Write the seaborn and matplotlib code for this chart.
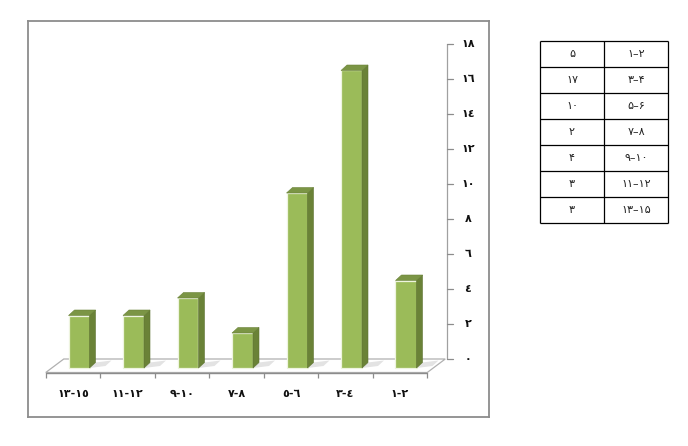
import matplotlib
matplotlib.use("Agg")
import matplotlib.pyplot as plt
import seaborn as sns
import pandas as pd
from matplotlib.patches import Polygon

ranges = ["1-2", "3-4", "5-6", "7-8", "9-10", "11-12", "13-15"]
counts = [5, 17, 10, 2, 4, 3, 3]
yticks = [0, 2, 4, 6, 8, 10, 12, 14, 16, 18]

arabic = str.maketrans("0123456789", "٠١٢٣٤٥٦٧٨٩")
persian = str.maketrans("0123456789", "۰۱۲۳۴۵۶۷۸۹")

df = pd.DataFrame({"range": ranges, "count": counts})
order = ranges[::-1]  # right to left

sns.set_style("white")
plt.rcParams["font.family"] = ["DejaVu Sans"]

W, H = 688, 446
fig = plt.figure(figsize=(W / 100, H / 100), dpi=100)


def px_box(l, t, r, b):
    return [l / W, 1 - b / H, (r - l) / W, (b - t) / H]


# pixel scale of the plot: 54.5 px per category, 17.5 px per unit
PX, PY = 54.5, 17.5
X0, Y0 = 73, 359

ax = fig.add_axes(px_box(28, 21, 489, 417))
sns.barplot(data=df, x="range", y="count", order=order, ax=ax,
            color="#9BBB59", width=21 / PX, saturation=1,
            edgecolor="#EEF4DF", linewidth=0.9, zorder=3)

ax.set_xlim((28 - X0) / PX, (489 - X0) / PX)
ax.set_ylim((Y0 - 417) / PY, (Y0 - 21) / PY)
ax.set_xticks([])
ax.set_yticks([])
ax.set_xlabel("")
ax.set_ylabel("")
for s in ax.spines.values():
    s.set_visible(True)
    s.set_color("#8C8C8C")
    s.set_linewidth(1.3)

n = len(order)
front = -13.5 / PY
sx = 18 / PX

# floor
ax.add_patch(Polygon([(-0.5, front), (n - 0.5, front), (n - 0.5 + sx, 0), (-0.5 + sx, 0)],
                     closed=True, facecolor="white", edgecolor="#B0B0B0", lw=0.9, zorder=1))
ax.plot([-0.5, n - 0.5], [front, front], color="#8C8C8C", lw=1.0, zorder=2)
ax.vlines([i - 0.5 for i in range(n + 1)], front - 5 / PY, front, color="#8C8C8C", lw=0.9)

# vertical axis at the back right corner
xa = (447 - X0) / PX
ax.plot([xa, xa], [0, yticks[-1]], color="#A0A0A0", lw=0.9, zorder=2)
for t in yticks:
    ax.plot([xa, xa + 6 / PX], [t, t], color="#8C8C8C", lw=0.9)
    ax.text((468 - X0) / PX, t, str(t).translate(arabic), ha="center", va="center",
            fontsize=8, fontweight="bold", color="#111111")

# 3d look: shift front faces, add top, side and a soft shadow
base = -9 / PY
dx, dy = 6 / PX, 5.5 / PY
for p in list(ax.containers[0]):
    x = p.get_x() + 6 / PX
    w = p.get_width()
    h = p.get_height()
    p.set_x(x)
    p.set_y(base)
    xr, top = x + w, base + h
    ax.add_patch(Polygon([(xr, base), (xr + 16 / PX, base + 2 / PY),
                          (xr + 16 / PX + dx, base + 2 / PY + dy), (xr + dx, base + dy)],
                         closed=True, facecolor="#DCDCDC", edgecolor="none", alpha=0.8, zorder=2))
    ax.add_patch(Polygon([(xr, base), (xr, top), (xr + dx, top + dy), (xr + dx, base + dy)],
                         closed=True, facecolor="#6A8237", edgecolor="#5C7230", lw=0.4, zorder=3))
    ax.add_patch(Polygon([(x, top), (xr, top), (xr + dx, top + dy), (x + dx, top + dy)],
                         closed=True, facecolor="#7B9545", edgecolor="#6A8237", lw=0.4, zorder=3))

for i, r in enumerate(order):
    ax.text(i, (Y0 - 394) / PY, r.translate(arabic), ha="center", va="center",
            fontsize=8, fontweight="bold", color="#111111")

# table on the right
tb = fig.add_axes(px_box(540, 41, 668, 223))
tb.set_xlim(0, 2)
tb.set_ylim(len(ranges), 0)
tb.axis("off")
tb.hlines(range(len(ranges) + 1), 0, 2, color="black", lw=0.9, clip_on=False)
tb.vlines([0, 1, 2], 0, len(ranges), color="black", lw=0.9, clip_on=False)
for i, (r, c) in enumerate(zip(ranges, counts)):
    tb.text(0.5, i + 0.5, str(c).translate(persian), ha="center", va="center",
            fontsize=8, color="#222222")
    tb.text(1.5, i + 0.5, r.replace("-", "–").translate(persian), ha="center", va="center",
            fontsize=8, color="#222222")

fig.savefig("out.png", dpi=100)
